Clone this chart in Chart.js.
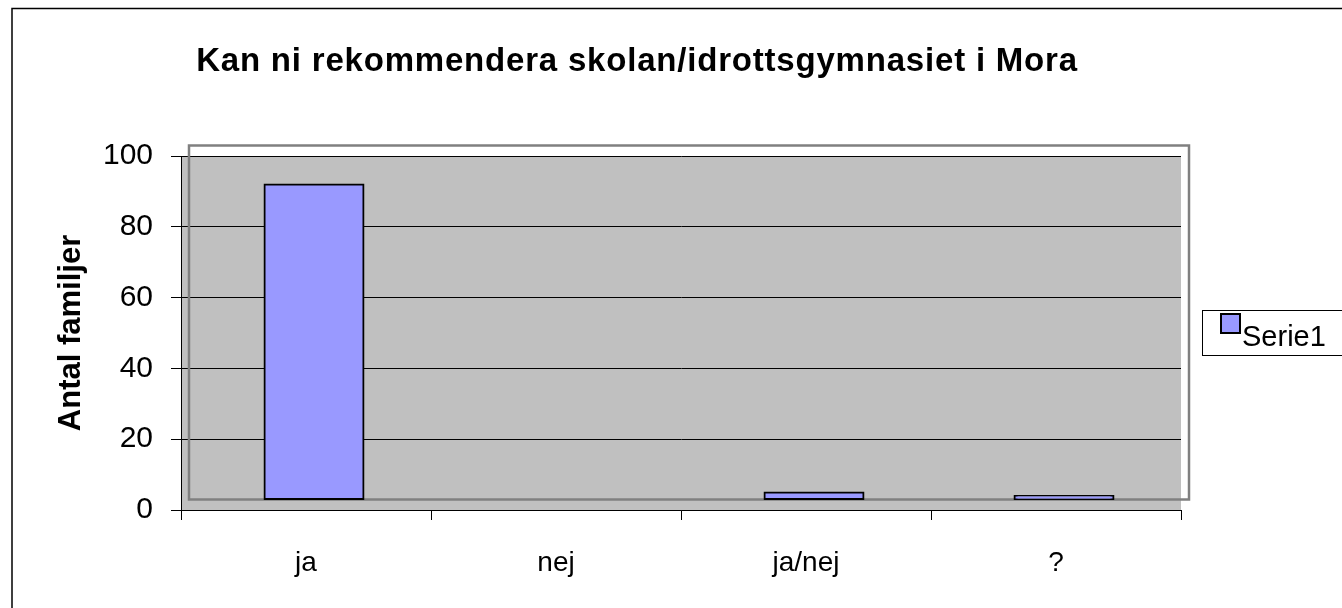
<!DOCTYPE html>
<html><head><meta charset="utf-8">
<script src="https://cdn.jsdelivr.net/npm/chart.js@4/dist/chart.umd.min.js"></script>
<style>html,body{margin:0;padding:0;background:#fff;overflow:hidden;} #wrap{width:1342px;height:608px;position:relative;}</style>
</head><body><div id="wrap"><canvas id="c" width="1342" height="608"></canvas></div>
<script>
// ---- data ----
const titleText = 'Kan ni rekommendera skolan/idrottsgymnasiet i Mora';
const categories = ['ja', 'nej', 'ja/nej', '?'];
const serieLabel = 'Serie1';
const serieValues = [89, 0, 2, 1];
const yTicks = [0, 20, 40, 60, 80, 100];
const yAxisTitle = 'Antal familjer';

// ---- styling ----
const FONT = "'Liberation Sans', Arial, Helvetica, sans-serif";
const BAR_FILL = '#9999ff';
const DX = 8, DY = -10.5; // 3D depth offset of the back wall

const deco = {
  id: 'deco',
  beforeDraw(chart) {
    const {ctx, chartArea: a} = chart;
    ctx.save();
    ctx.fillStyle = '#ffffff';
    ctx.fillRect(0, 0, chart.width, chart.height);
    ctx.fillStyle = '#c0c0c0';
    ctx.fillRect(a.left, a.top, a.right - a.left, a.bottom - a.top);
    ctx.strokeStyle = '#000';
    ctx.lineWidth = 1.5;
    ctx.strokeRect(12, 8.5, chart.width + 40, chart.height + 40);
    ctx.restore();
  },
  beforeDatasetsDraw(chart) {
    const {ctx, chartArea: a} = chart;
    ctx.save();
    ctx.strokeStyle = '#808080';
    ctx.lineWidth = 2.5;
    ctx.strokeRect(a.left + DX, a.top + DY, a.right - a.left, a.bottom - a.top);
    ctx.translate(DX, DY);
  },
  afterDatasetsDraw(chart) {
    chart.ctx.restore();
  },
  afterDraw(chart) {
    const ctx = chart.ctx;
    ctx.save();
    // title
    ctx.fillStyle = '#000';
    ctx.font = 'bold 33px ' + FONT;
    if ('letterSpacing' in ctx) ctx.letterSpacing = '0.8px';
    ctx.textAlign = 'center';
    ctx.textBaseline = 'alphabetic';
    ctx.fillText(titleText, 637, 71);
    if ('letterSpacing' in ctx) ctx.letterSpacing = '0px';
    // legend
    const ds = chart.data.datasets[0];
    ctx.strokeStyle = '#000';
    ctx.lineWidth = 1;
    ctx.strokeRect(1202.5, 310.5, 200, 45);
    ctx.fillStyle = ds.backgroundColor;
    ctx.fillRect(1221, 314, 19, 19);
    ctx.lineWidth = 2;
    ctx.strokeRect(1221, 314, 19, 19);
    ctx.fillStyle = '#000';
    ctx.font = '29px ' + FONT;
    ctx.textAlign = 'left';
    ctx.fillText(ds.label, 1242, 346);
    ctx.restore();
  }
};

new Chart(document.getElementById('c'), {
  type: 'bar',
  data: {
    labels: categories,
    datasets: [{
      label: serieLabel,
      data: serieValues,
      backgroundColor: BAR_FILL,
      borderColor: '#000',
      borderWidth: 2,
      borderSkipped: false,
      inflateAmount: 1,
      barPercentage: 0.396,
      categoryPercentage: 1,
      clip: false
    }]
  },
  options: {
    responsive: false,
    animation: false,
    events: [],
    layout: { padding: { top: 156, right: 161, left: 0, bottom: 0 } },
    plugins: {
      legend: { display: false },
      title: { display: false },
      tooltip: { enabled: false }
    },
    scales: {
      x: {
        offset: true,
        grid: { offset: true, drawOnChartArea: false, drawTicks: true, tickLength: 10, color: '#000', lineWidth: 1 },
        border: { color: '#000', width: 1 },
        ticks: { color: '#000', font: { family: FONT, size: 28 }, padding: 26, maxRotation: 0, autoSkip: false },
        afterFit: s => { s.height = 98; }
      },
      y: {
        min: 0, max: 100,
        afterBuildTicks: s => { s.ticks = yTicks.map(v => ({ value: v })); },
        grid: { color: '#000', lineWidth: 1, drawTicks: true, tickLength: 10 },
        border: { color: '#000', width: 1 },
        ticks: { color: '#000', font: { family: FONT, size: 30 }, padding: 18 },
        title: { display: true, text: yAxisTitle, color: '#000', font: { family: FONT, size: 31, weight: 'bold' }, padding: { top: 53, bottom: 0 } },
        afterFit: s => { s.width = 181; }
      }
    }
  },
  plugins: [deco]
});
</script>
</body></html>
